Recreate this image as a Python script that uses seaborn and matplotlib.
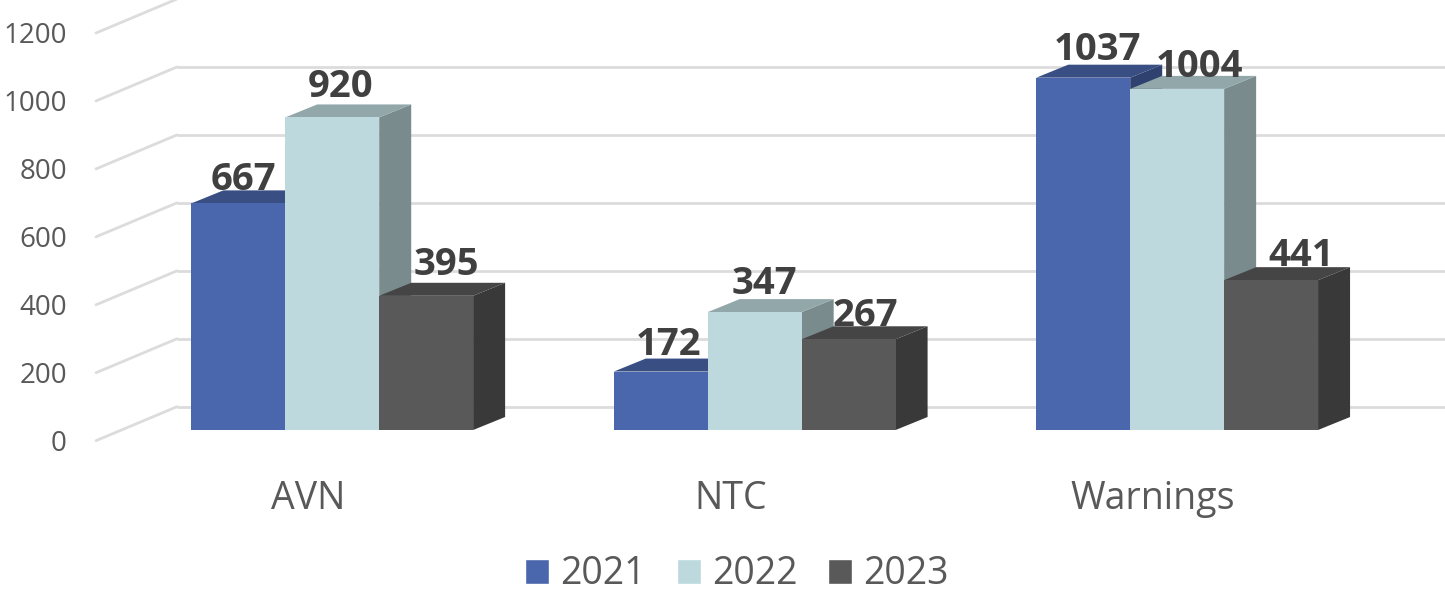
import numpy as np
import pandas as pd
import seaborn as sns
import matplotlib.pyplot as plt
from matplotlib.patches import Polygon
from matplotlib.transforms import ScaledTranslation

categories = ["AVN", "NTC", "Warnings"]
years = ["2021", "2022", "2023"]
values_2021 = [667, 172, 1037]
values_2022 = [920, 347, 1004]
values_2023 = [395, 267, 441]
y_ticks = [0, 200, 400, 600, 800, 1000, 1200]

colors = ["#4a66ac", "#bdd9dd", "#595959"]

W, H = 1445, 592

# fake 3D depth, in pixels
BAR_DX, BAR_DY = 32, 13
WALL_DX, WALL_DY = 81, 34
WALL_LEFT, WALL_FRONT_DROP = 96, 10.7

# nudge of each value label from the top centre of its bar (px, left to right)
label_nudge = [(5, 23), (8, 30), (20, 31), (8, 27), (10, 28), (17, 23), (14, 28), (22, 22), (30, 24)]

sns.set_theme(style="white")
plt.rcParams["font.family"] = ["Open Sans", "DejaVu Sans"]

df = pd.DataFrame({
    "category": categories * 3,
    "year": np.repeat(years, 3),
    "count": values_2021 + values_2022 + values_2023,
})

fig = plt.figure(figsize=(W / 100, H / 100), dpi=100)
ax = fig.add_axes([121 / W, 1 - 430 / H, (1388.4 - 121) / W, (430 - 22.3) / H])

sns.barplot(data=df, x="category", y="count", hue="year", hue_order=years, palette=colors,
            width=0.667, gap=0, saturation=1, errorbar=None, ax=ax)
ax.set_xlim(-0.5, 2.5)
ax.set_ylim(0, 1200)
ax.set_xlabel("")
ax.set_ylabel("")
sns.despine(ax=ax, left=True, bottom=True)

# px per data unit on each axis
px_x = (1388.4 - 121) / 3
px_y = (430 - 22.3) / 1200

# back wall and left side lines
for t in y_ticks:
    bx = -0.5 + (WALL_LEFT + WALL_DX - 121) / px_x
    by = t + (WALL_DY - WALL_FRONT_DROP) / px_y
    fx = -0.5 + (WALL_LEFT - 121) / px_x
    fy = t - WALL_FRONT_DROP / px_y
    ax.plot([bx, 2.5 + (W - 1388.4) / px_x], [by, by], color="#dcdcdc", lw=2,
            clip_on=False, zorder=1, solid_capstyle="butt")
    ax.plot([fx, bx], [fy, by], color="#dcdcdc", lw=2, clip_on=False, zorder=1)

# side and top faces, drawn bar by bar so later bars cover earlier ones
bars = sorted([b for c in ax.containers for b in c], key=lambda p: p.get_x())
dx = BAR_DX / px_x
dy = BAR_DY / px_y
for i, bar in enumerate(bars):
    x0 = bar.get_x()
    x1 = x0 + bar.get_width()
    top = bar.get_height()
    base = np.array(bar.get_facecolor()[:3])
    z = 3 + i * 0.1
    side = Polygon([(x1, 0), (x1 + dx, dy), (x1 + dx, top + dy), (x1, top)],
                   facecolor=base * 0.64, edgecolor="none", clip_on=False, zorder=z)
    roof = Polygon([(x0, top), (x0 + dx, top + dy), (x1 + dx, top + dy), (x1, top)],
                   facecolor=base * 0.77, edgecolor="none", clip_on=False, zorder=z + 0.01)
    ax.add_patch(side)
    ax.add_patch(roof)
    bar.set_zorder(z + 0.02)
    bar.set_linewidth(0)
    bar.set_clip_on(False)
    nx, ny = label_nudge[i]
    ax.annotate(f"{top:.0f}", xy=((x0 + x1) / 2, top), xytext=(nx, ny), textcoords="offset pixels",
                ha="center", va="center", fontsize=27.5, fontweight="bold", color="#404040",
                zorder=10, annotation_clip=False)

# tick labels sit off the front plane
ax.set_yticks(y_ticks)
ax.tick_params(axis="y", length=0, pad=38.9, labelsize=20, labelcolor="#595959")
ax.tick_params(axis="x", length=0, pad=36, labelsize=27, labelcolor="#595959")
y_shift = ScaledTranslation(0, -10.5 / 100, fig.dpi_scale_trans)
x_shift = ScaledTranslation(-24.5 / 100, 0, fig.dpi_scale_trans)
for lab in ax.get_yticklabels():
    lab.set_transform(lab.get_transform() + y_shift)
for lab in ax.get_xticklabels():
    lab.set_transform(lab.get_transform() + x_shift)

sns.move_legend(ax, "center", bbox_to_anchor=(737 / W, 1 - 574.5 / H), bbox_transform=fig.transFigure,
                ncol=3, frameon=False, title=None, fontsize=27, labelcolor="#595959",
                handlelength=0.64, handleheight=0.64, handletextpad=0.3, columnspacing=0.82,
                borderpad=0, borderaxespad=0)

fig.savefig("out.png", dpi=100, facecolor="white")
